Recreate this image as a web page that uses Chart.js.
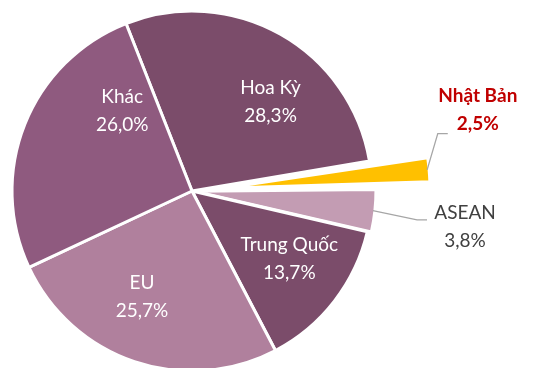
<!DOCTYPE html>
<html>
<head>
<meta charset="utf-8">
<script src="https://cdn.jsdelivr.net/npm/chart.js@4.4.1/dist/chart.umd.min.js"></script>
<style>
  html, body { margin: 0; padding: 0; background: #fff; }
  canvas { display: block; }
</style>
</head>
<body>
<canvas id="market-share-chart" width="538" height="368"></canvas>
<script>
const markets = ['Hoa Kỳ', 'Nhật Bản', 'ASEAN', 'Trung Quốc', 'EU', 'Khác'];
const shares = [28.3, 2.5, 3.8, 13.7, 25.7, 26.0];
const sliceColors = ['#7b4c6a', '#ffc000', '#c39cb3', '#7b4c6a', '#b0809d', '#8f5a7f'];
const explode = [0, 126, 9, 0, 0, 0];

// label spot per slice: angle in degrees (0 = 3 o'clock, clockwise) and distance as share of radius
const labelSpots = [[-48.6, 0.66], [-15.8, 1.65], [7.5, 1.53], [35, 0.66], [115.3, 0.65], [-131.1, 0.59]];
const labelColors = ['#ffffff', '#c00000', '#404040', '#ffffff', '#ffffff', '#ffffff'];
const labelBold = [false, true, false, false, false, false];
// leader elbow relative to the label centre, only for the labels outside the pie
const leaders = [null, [-40, 23.5], [-48, -7], null, null, null];

const pct = v => v.toFixed(1).replace('.', ',') + '%';

const sliceLabels = {
  id: 'sliceLabels',
  afterDatasetsDraw(chart) {
    const ctx = chart.ctx;
    const arcs = chart.getDatasetMeta(0).data;
    ctx.save();
    ctx.textAlign = 'center';
    ctx.textBaseline = 'middle';
    arcs.forEach((arc, i) => {
      const R = arc.outerRadius;
      const [deg, dist] = labelSpots[i];
      const a = deg * Math.PI / 180;
      const lx = arc.x + Math.cos(a) * dist * R;
      const ly = arc.y + Math.sin(a) * dist * R;
      const lead = leaders[i];
      if (lead) {
        // exploded arcs get pushed out along the middle angle, same as ArcElement.draw
        const mid = (arc.startAngle + arc.endAngle) / 2;
        const circ = arc.endAngle - arc.startAngle;
        const off = (arc.options.offset || 0) / 4;
        const shift = off + off * (1 - Math.sin(Math.min(Math.PI, circ)));
        const sx = arc.x + Math.cos(mid) * (shift + R - 2);
        const sy = arc.y + Math.sin(mid) * (shift + R - 2);
        ctx.beginPath();
        ctx.moveTo(sx, sy);
        ctx.lineTo(lx + lead[0], ly + lead[1]);
        ctx.lineTo(lx + lead[0] + 10, ly + lead[1]);
        ctx.strokeStyle = '#a6a6a6';
        ctx.lineWidth = 1.3;
        ctx.stroke();
      }
      ctx.fillStyle = labelColors[i];
      ctx.font = (labelBold[i] ? 'bold ' : '') + '19px Lato';
      ctx.fillText(markets[i], lx, ly - 14);
      ctx.fillText(pct(shares[i]), lx, ly + 14);
    });
    ctx.restore();
  }
};

new Chart(document.getElementById('market-share-chart'), {
  type: 'pie',
  data: {
    labels: markets,
    datasets: [{
      data: shares,
      backgroundColor: sliceColors,
      borderColor: '#ffffff',
      borderWidth: 3,
      offset: explode,
      clip: false
    }]
  },
  options: {
    responsive: false,
    animation: false,
    events: [],
    rotation: -21.5,
    radius: 180,
    layout: { padding: { left: 0, right: 154, top: 14, bottom: 0 } },
    plugins: {
      legend: { display: false },
      tooltip: { enabled: false }
    }
  },
  plugins: [sliceLabels]
});
</script>
</body>
</html>
